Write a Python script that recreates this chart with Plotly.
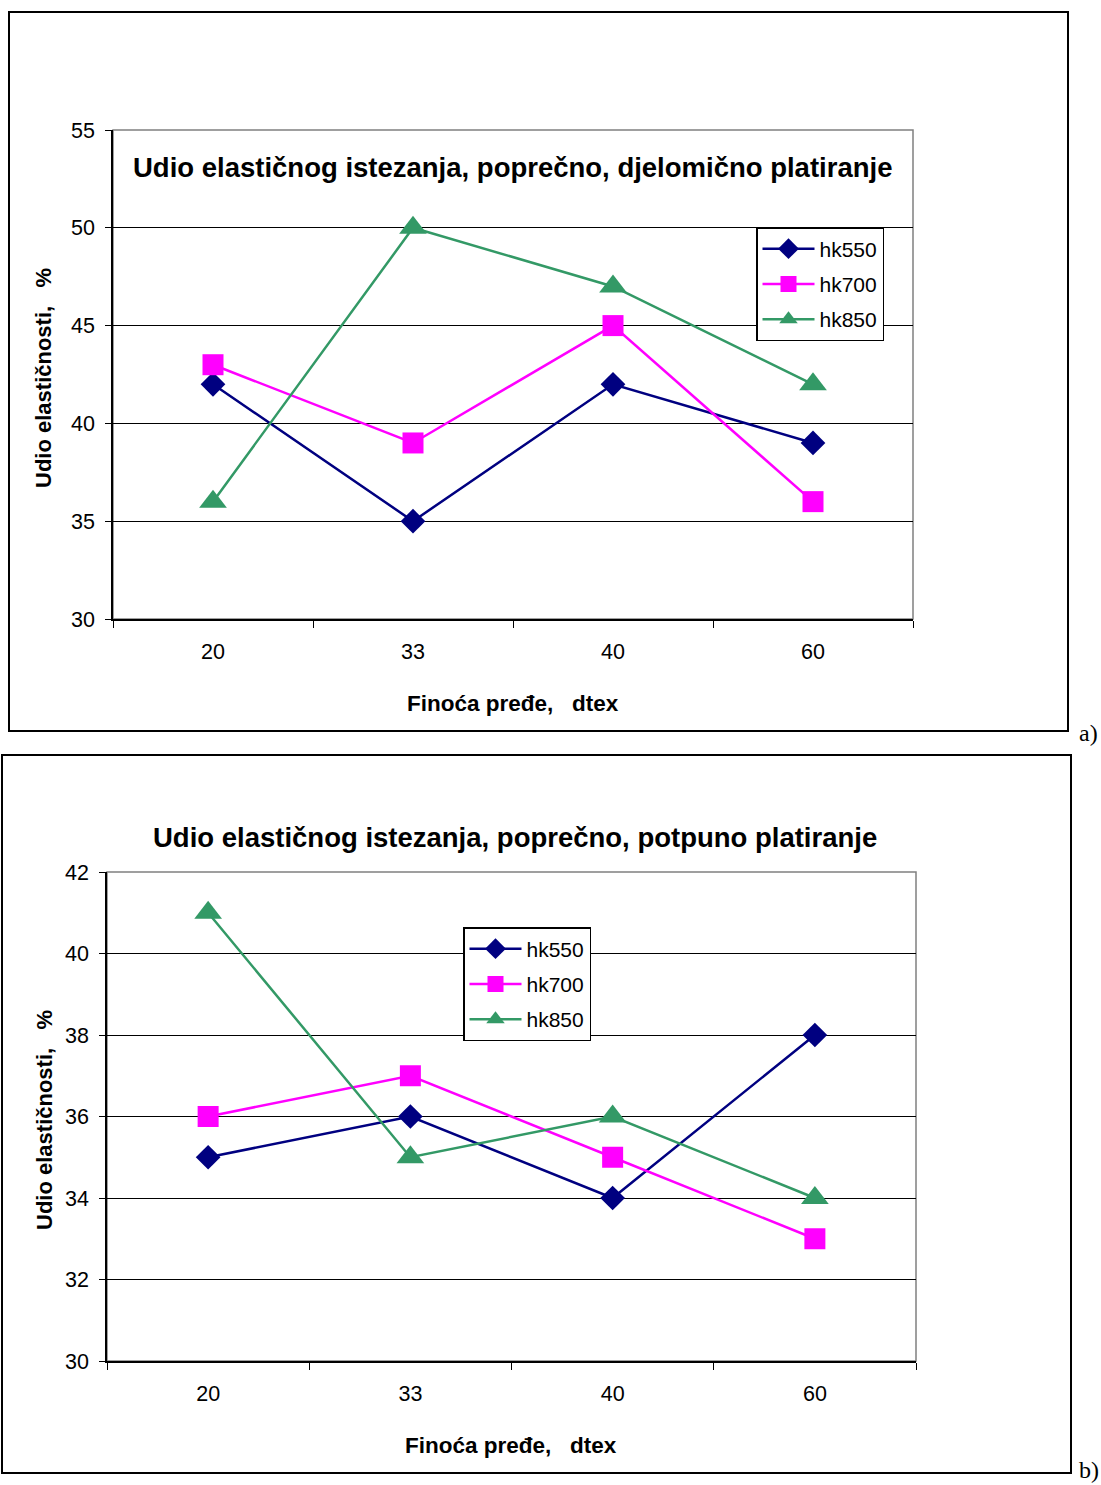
import plotly.graph_objects as go

W, H = 1101, 1485

categories = ["20", "33", "40", "60"]
series_names = ["hk550", "hk700", "hk850"]

a_hk550 = [42, 35, 42, 39]
a_hk700 = [43, 39, 45, 36]
a_hk850 = [36, 50, 47, 42]

b_hk550 = [35, 36, 34, 38]
b_hk700 = [36, 37, 35, 33]
b_hk850 = [41, 35, 36, 34]

title_a = "Udio elastičnog istezanja, poprečno, djelomično platiranje"
title_b = "Udio elastičnog istezanja, poprečno, potpuno platiranje"
ytitle = "Udio elastičnosti,\u00a0\u00a0\u00a0%"
xtitle = "Finoća pređe,\u00a0\u00a0\u00a0dtex"

colors = ["#000080", "#FF00FF", "#339966"]
symbols = ["diamond", "square", "triangle-up"]
msizes = [19, 21, 24]

FONT = "Liberation Sans, Arial, sans-serif"


def px(x):
    return x / W


def py(y):
    return 1 - y / H


fig = go.Figure()

data_a = [a_hk550, a_hk700, a_hk850]
data_b = [b_hk550, b_hk700, b_hk850]

for i, name in enumerate(series_names):
    fig.add_trace(go.Scatter(
        x=categories, y=data_a[i], name=name, mode="lines+markers",
        line=dict(color=colors[i], width=2.5),
        marker=dict(symbol=symbols[i], size=msizes[i], color=colors[i]),
        xaxis="x", yaxis="y", legend="legend", legendgroup="a" + name))
for i, name in enumerate(series_names):
    fig.add_trace(go.Scatter(
        x=categories, y=data_b[i], name=name, mode="lines+markers",
        line=dict(color=colors[i], width=2.5),
        marker=dict(symbol=symbols[i], size=msizes[i], color=colors[i]),
        xaxis="x2", yaxis="y2", legend="legend2", legendgroup="b" + name))

# plot area geometry (pixels)
A = dict(x0=113, x1=913, y0=130, y1=619)
B = dict(x0=107, x1=916, y0=872, y1=1361)

xax = dict(type="category", categoryorder="array", categoryarray=categories,
           range=[-0.5, 3.5], showline=True, linecolor="black", linewidth=1.5,
           ticks="outside", ticklen=7, tickcolor="black", tickson="boundaries",
           showgrid=False, zeroline=False, ticklabelstandoff=12, automargin=False,
           tickfont=dict(family=FONT, size=21.5, color="black"))
yax = dict(showline=True, linecolor="black", linewidth=1.5, ticks="outside",
           ticklen=6, tickcolor="black", showgrid=True, gridcolor="black",
           gridwidth=1.2, zeroline=False, ticklabelstandoff=6, automargin=False,
           tickfont=dict(family=FONT, size=21.5, color="black"))

leg = dict(xanchor="left", yanchor="top", bgcolor="white", bordercolor="black",
           borderwidth=1.5, font=dict(family=FONT, size=21, color="black"),
           itemwidth=52, tracegroupgap=5)

fig.update_layout(
    width=W, height=H, margin=dict(l=0, r=0, t=0, b=0, pad=0, autoexpand=False),
    paper_bgcolor="white", plot_bgcolor="white",
    xaxis=dict(xax, domain=[px(A["x0"]), px(A["x1"])], anchor="y"),
    yaxis=dict(yax, domain=[py(A["y1"]), py(A["y0"])], anchor="x",
               range=[30, 55], dtick=5),
    xaxis2=dict(xax, domain=[px(B["x0"]), px(B["x1"])], anchor="y2"),
    yaxis2=dict(yax, domain=[py(B["y1"]), py(B["y0"])], anchor="x2",
                range=[30, 42], dtick=2),
    legend=dict(leg, x=px(756), y=py(227)),
    legend2=dict(leg, x=px(463), y=py(927)),
    showlegend=True,
)

shapes = []
# outer chart boxes
shapes.append(dict(type="rect", xref="paper", yref="paper",
                   x0=px(9), x1=px(1068), y0=py(731), y1=py(12),
                   line=dict(color="black", width=2), layer="below"))
shapes.append(dict(type="rect", xref="paper", yref="paper",
                   x0=px(2), x1=px(1071), y0=py(1473), y1=py(755),
                   line=dict(color="black", width=2), layer="below"))
# gray plot area borders
for P in (A, B):
    shapes.append(dict(type="rect", xref="paper", yref="paper",
                       x0=px(P["x0"]), x1=px(P["x1"]), y0=py(P["y1"]), y1=py(P["y0"]),
                       line=dict(color="#808080", width=1.5), layer="below"))
fig.update_layout(shapes=shapes)

ann = []
ann.append(dict(text="<b>" + title_a + "</b>", x=px(512), y=py(167), xref="paper", yref="paper",
                showarrow=False, font=dict(family=FONT, size=27.5, color="black"),
                xanchor="center", yanchor="middle", bgcolor="white"))
ann.append(dict(text="<b>" + title_b + "</b>", x=px(515), y=py(837), xref="paper", yref="paper",
                showarrow=False, font=dict(family=FONT, size=27.5, color="black"),
                xanchor="center", yanchor="middle"))
for yc in (378, 1120):
    ann.append(dict(text="<b>" + ytitle + "</b>", x=px(44), y=py(yc), xref="paper", yref="paper",
                    showarrow=False, textangle=-90, font=dict(family=FONT, size=22, color="black"),
                    xanchor="center", yanchor="middle"))
for xc, yc in ((513, 703), (511, 1445)):
    ann.append(dict(text="<b>" + xtitle + "</b>", x=px(xc), y=py(yc), xref="paper", yref="paper",
                    showarrow=False, font=dict(family=FONT, size=22.5, color="black"),
                    xanchor="center", yanchor="middle"))
ann.append(dict(text="a)", x=px(1077), y=py(733), xref="paper", yref="paper", showarrow=False,
                font=dict(family="Liberation Serif, Times New Roman, serif", size=24, color="black"),
                xanchor="left", yanchor="middle"))
ann.append(dict(text="b)", x=1.0, y=py(1470), xref="paper", yref="paper", showarrow=False,
                font=dict(family="Liberation Serif, Times New Roman, serif", size=24, color="black"),
                xanchor="right", yanchor="middle"))
fig.update_layout(annotations=ann)

fig.write_html("out.html", config={"displayModeBar": False},
               post_script="document.body.style.margin='0';document.body.style.overflow='hidden';")
